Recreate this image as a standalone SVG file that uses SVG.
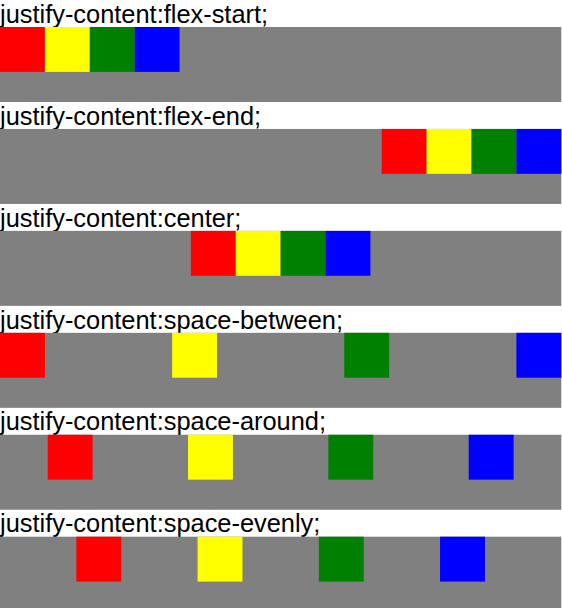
<svg xmlns="http://www.w3.org/2000/svg" width="562" height="608" viewBox="0 0 562 608">
<style>
text{font-family:"Liberation Sans",Arial,Helvetica,sans-serif;font-size:25.4px;fill:#000}
.bar{fill:#808080}
.r{fill:#ff0000}.y{fill:#ffff00}.g{fill:#008000}.b{fill:#0000ff}
</style>
<rect width="562" height="608" fill="#fff"/>
<g id="flex-start">
<text x="0" y="22.7">justify-content:flex-start;</text>
<rect class="bar" x="0" y="27" width="561.3" height="75"/>
<rect class="r" x="0" y="27" width="44.9" height="44.9"/>
<rect class="y" x="44.9" y="27" width="44.9" height="44.9"/>
<rect class="g" x="89.8" y="27" width="44.9" height="44.9"/>
<rect class="b" x="134.7" y="27" width="44.9" height="44.9"/>
</g>
<g id="flex-end">
<text x="0" y="124.64">justify-content:flex-end;</text>
<rect class="bar" x="0" y="128.94" width="561.3" height="75"/>
<rect class="r" x="381.7" y="128.94" width="44.9" height="44.9"/>
<rect class="y" x="426.6" y="128.94" width="44.9" height="44.9"/>
<rect class="g" x="471.5" y="128.94" width="44.9" height="44.9"/>
<rect class="b" x="516.4" y="128.94" width="44.9" height="44.9"/>
</g>
<g id="center">
<text x="0" y="226.58">justify-content:center;</text>
<rect class="bar" x="0" y="230.88" width="561.3" height="75"/>
<rect class="r" x="190.85" y="230.88" width="44.9" height="44.9"/>
<rect class="y" x="235.75" y="230.88" width="44.9" height="44.9"/>
<rect class="g" x="280.65" y="230.88" width="44.9" height="44.9"/>
<rect class="b" x="325.55" y="230.88" width="44.9" height="44.9"/>
</g>
<g id="space-between">
<text x="0" y="328.52">justify-content:space-between;</text>
<rect class="bar" x="0" y="332.82" width="561.3" height="75"/>
<rect class="r" x="0" y="332.82" width="44.9" height="44.9"/>
<rect class="y" x="172.13" y="332.82" width="44.9" height="44.9"/>
<rect class="g" x="344.27" y="332.82" width="44.9" height="44.9"/>
<rect class="b" x="516.4" y="332.82" width="44.9" height="44.9"/>
</g>
<g id="space-around">
<text x="0" y="430.46">justify-content:space-around;</text>
<rect class="bar" x="0" y="434.76" width="561.3" height="75"/>
<rect class="r" x="47.71" y="434.76" width="44.9" height="44.9"/>
<rect class="y" x="188.04" y="434.76" width="44.9" height="44.9"/>
<rect class="g" x="328.36" y="434.76" width="44.9" height="44.9"/>
<rect class="b" x="468.69" y="434.76" width="44.9" height="44.9"/>
</g>
<g id="space-evenly">
<text x="0" y="532.4">justify-content:space-evenly;</text>
<rect class="bar" x="0" y="536.7" width="561.3" height="75"/>
<rect class="r" x="76.34" y="536.7" width="44.9" height="44.9"/>
<rect class="y" x="197.58" y="536.7" width="44.9" height="44.9"/>
<rect class="g" x="318.82" y="536.7" width="44.9" height="44.9"/>
<rect class="b" x="440.06" y="536.7" width="44.9" height="44.9"/>
</g>
<g id="connectors"/>
</svg>
